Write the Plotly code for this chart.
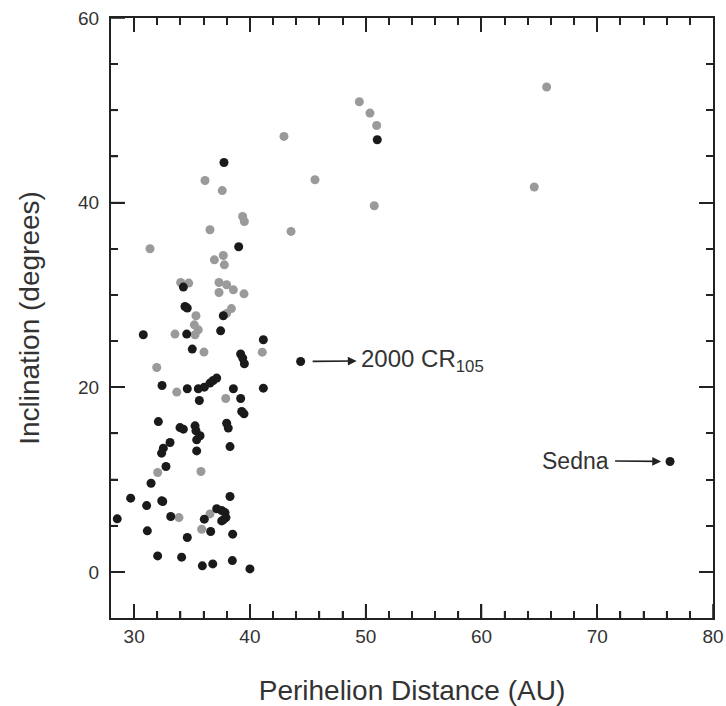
import plotly.graph_objects as go

# Perihelion distance (AU) and inclination (deg)
gray_q = [36.12, 37.61, 39.37, 39.52, 36.55, 31.37, 37.70, 36.93, 37.79, 34.02,
          34.71, 37.33, 37.99, 37.33, 38.57, 39.49, 38.40, 37.99, 35.34, 35.20,
          35.54, 35.26, 33.53, 41.07, 36.03, 31.95, 33.68, 37.91, 32.03, 35.77,
          33.87, 36.55, 35.83, 49.45, 50.37, 50.95, 42.94, 45.62, 50.74, 43.55,
          65.63, 64.56]
gray_i = [42.40, 41.30, 38.50, 37.96, 37.06, 35.00, 34.27, 33.80, 33.26, 31.35,
          31.28, 31.35, 31.10, 30.26, 30.55, 30.12, 28.52, 28.00, 27.74, 26.76,
          26.22, 25.68, 25.76, 23.80, 23.81, 22.14, 19.47, 18.78, 10.76, 10.87,
          5.88, 6.28, 4.62, 50.93, 49.70, 48.36, 47.17, 42.48, 39.66, 36.88,
          52.52, 41.69]

black_q = [37.76, 39.03, 34.25, 34.39, 34.59, 37.70, 30.79, 34.54, 37.47, 41.16,
           35.02, 39.20, 39.38, 39.52, 32.41, 34.59, 35.54, 36.06, 36.55, 36.83,
           37.13, 35.63, 38.57, 39.20, 41.16, 39.29, 39.49, 32.09, 33.96, 34.25,
           35.26, 35.34, 35.69, 35.40, 37.99, 38.13, 33.10, 32.52, 35.40, 38.28,
           32.37, 32.75, 31.46, 29.70, 31.08, 32.38, 32.47, 38.28, 28.54, 33.16,
           36.06, 37.13, 37.56, 37.85, 37.93, 37.70, 37.56, 36.61, 31.14, 34.59,
           38.51, 32.03, 34.10, 35.89, 36.79, 38.48, 40.00, 51.00]
black_i = [44.35, 35.22, 30.85, 28.75, 28.57, 27.74, 25.68, 25.76, 26.11, 25.14,
           24.13, 23.60, 23.16, 22.54, 20.19, 19.83, 19.83, 20.01, 20.45, 20.73,
           20.99, 18.56, 19.83, 18.78, 19.90, 17.37, 17.12, 16.28, 15.63, 15.46,
           15.82, 15.28, 14.74, 14.30, 16.10, 15.57, 14.01, 13.40, 13.10, 13.57,
           12.86, 11.41, 9.60, 7.98, 7.18, 7.69, 7.62, 8.16, 5.74, 5.99,
           5.71, 6.83, 6.64, 6.42, 5.88, 5.63, 5.52, 4.37, 4.44, 3.72,
           4.08, 1.73, 1.59, 0.65, 0.86, 1.22, 0.32, 46.81]

named = ["2000 CR<sub>105</sub>", "Sedna"]
named_q = [44.38, 76.29]
named_i = [22.79, 11.95]

# axis ticks
x_ticks = [30, 40, 50, 60, 70, 80]
y_ticks = [0, 20, 40, 60]
x_minor = [32, 34, 36, 38, 42, 44, 46, 48, 52, 54, 56, 58, 62, 64, 66, 68, 72, 74, 76, 78]
y_minor = [5, 10, 15, 25, 30, 35, 45, 50, 55]
x_range = [28, 80]
y_range = [-5, 60]

FONT = "Liberation Sans, Arial, sans-serif"
INK = "#222222"
TXT = "#333333"
MAJ, MIN = 14, 7   # tick lengths in px

fig = go.Figure()

# Bottom / left inward ticks: line markers centred on the frame edge;
# the outer half is clipped by the plot area, leaving the inner half.
def edge_ticks(xs, ys, symbol, length):
    fig.add_trace(go.Scatter(x=xs, y=ys, mode="markers", cliponaxis=True,
                             marker=dict(symbol=symbol, size=length / 0.7,
                                         line=dict(width=1.6, color=INK)),
                             showlegend=False, hoverinfo="skip"))

edge_ticks(x_ticks, [y_range[0]] * len(x_ticks), "line-ns", MAJ)
edge_ticks(x_minor, [y_range[0]] * len(x_minor), "line-ns", MIN)
edge_ticks([x_range[0]] * len(y_ticks), y_ticks, "line-ew", MAJ)
edge_ticks([x_range[0]] * len(y_minor), y_minor, "line-ew", MIN)

fig.add_trace(go.Scatter(x=gray_q, y=gray_i, mode="markers",
                         marker=dict(size=9, color="#9a9a9a"), showlegend=False,
                         hoverinfo="x+y"))
fig.add_trace(go.Scatter(x=black_q + named_q, y=black_i + named_i, mode="markers",
                         marker=dict(size=9, color="#1a1a1a"), showlegend=False,
                         hoverinfo="x+y"))

# 2000 CR105: label to the right, arrowhead pointing at the label
fig.add_annotation(x=named_q[0], y=named_i[0], xref="x", yref="y", text=named[0],
                   showarrow=True, arrowside="start", startarrowhead=2,
                   startarrowsize=1.1, arrowwidth=1.6, arrowcolor=INK,
                   ax=122, ay=-1, standoff=12, startstandoff=3,
                   font=dict(family=FONT, size=24, color=TXT))
# Sedna: label to the left, arrowhead pointing at the dot
fig.add_annotation(x=named_q[1], y=named_i[1], xref="x", yref="y", text=named[1],
                   showarrow=True, arrowhead=2, arrowsize=1.1, arrowwidth=1.6,
                   arrowcolor=INK, ax=-95, ay=-1, standoff=9, borderpad=6,
                   font=dict(family=FONT, size=23, color=TXT))

axis_common = dict(showgrid=False, zeroline=False, showline=True, linewidth=2,
                   linecolor=INK, mirror="ticks", ticks="inside", ticklen=MAJ,
                   tickwidth=1.6, tickcolor=INK, automargin=False,
                   tickfont=dict(family=FONT, size=19, color=TXT))

fig.update_xaxes(range=x_range, tickvals=x_ticks,
                 minor=dict(tickvals=x_minor, ticks="inside", ticklen=MIN,
                            tickwidth=1.6, tickcolor=INK),
                 title=dict(text="Perihelion Distance (AU)", standoff=35,
                            font=dict(family=FONT, size=28, color=TXT)),
                 **axis_common)
fig.update_yaxes(range=y_range, tickvals=y_ticks,
                 minor=dict(tickvals=y_minor, ticks="inside", ticklen=MIN,
                            tickwidth=1.6, tickcolor=INK),
                 ticklabelstandoff=6,
                 title=dict(text="Inclination (degrees)", standoff=30,
                            font=dict(family=FONT, size=28, color=TXT)),
                 **axis_common)

fig.update_layout(width=726, height=706, margin=dict(l=111, r=13, t=18, b=88),
                  plot_bgcolor="white", paper_bgcolor="white",
                  font=dict(family=FONT, color=TXT))

fig.write_html("out.html", config={"displayModeBar": False},
               post_script="document.body.style.margin='0px';document.body.style.padding='0px';")
